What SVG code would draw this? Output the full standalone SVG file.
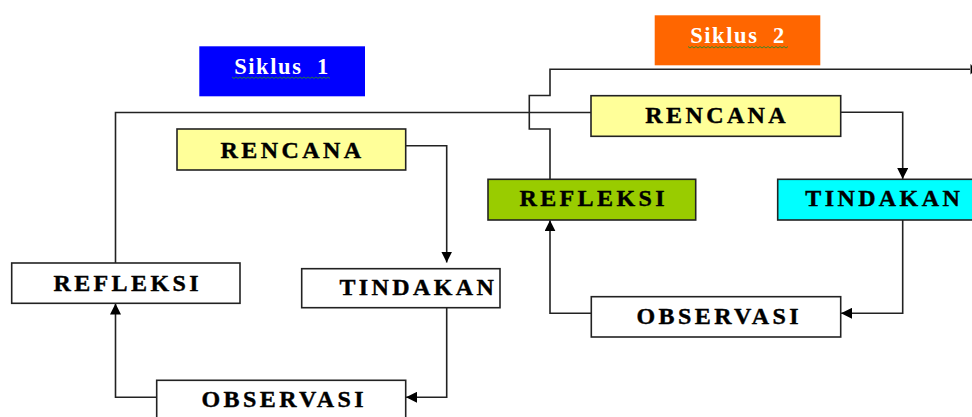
<svg xmlns="http://www.w3.org/2000/svg" width="972" height="417" viewBox="0 0 972 417">
<defs>
<style>
.box{stroke:#222;stroke-width:1.6}
.lbl{font-family:"Liberation Serif","Times New Roman",serif;font-weight:bold;font-size:24px;letter-spacing:3.4px;fill:#000;stroke:#000;stroke-width:0.4;text-anchor:middle}
.ttl{font-family:"Liberation Serif","Times New Roman",serif;font-weight:bold;font-size:22.5px;letter-spacing:1.6px;fill:#fff;text-anchor:middle}
.ln{fill:none;stroke:#222;stroke-width:1.6}
.wavy{fill:none;stroke:#2a8a2a;stroke-width:0.9}
</style>
<marker id="ah" viewBox="0 0 10 10" refX="10" refY="5" markerWidth="11" markerHeight="11" markerUnits="userSpaceOnUse" orient="auto">
<path d="M0,0 L10,5 L0,10 z" fill="#000"/>
</marker>
</defs>
<rect width="972" height="417" fill="#fff"/>

<g id="connectors">
<path class="ln" d="M115.5,263 V112.5 H591"/>
<path class="ln" d="M405.7,145.7 H446.7 V262.5" marker-end="url(#ah)"/>
<path class="ln" d="M446.7,307.7 V397.3 H406" marker-end="url(#ah)"/>
<path class="ln" d="M156.7,397.3 H115.5 V303.5" marker-end="url(#ah)"/>
<path class="ln" d="M550,179.3 V129 H529.3 V95.5 H550 V69.3 H970"/>
<polygon points="970.5,64 976,69.3 970.5,74.5" fill="#000"/>
<path class="ln" d="M840.7,112.3 H902.7 V179" marker-end="url(#ah)"/>
<path class="ln" d="M902.7,220 V313.3 H841" marker-end="url(#ah)"/>
<path class="ln" d="M591.3,313.3 H550 V220.3" marker-end="url(#ah)"/>
</g>

<g id="siklus1">
<rect x="199.3" y="46.3" width="165.7" height="50" fill="#0000FF"/>
<text class="ttl" x="282" y="74" xml:space="preserve">Siklus  1</text>
<path class="wavy" d="M232,77 l2,1.5 l2,-1.5 l2,1.5 l2,-1.5 l2,1.5 l2,-1.5 l2,1.5 l2,-1.5 l2,1.5 l2,-1.5 l2,1.5 l2,-1.5 l2,1.5 l2,-1.5 l2,1.5 l2,-1.5 l2,1.5 l2,-1.5 l2,1.5 l2,-1.5 l2,1.5 l2,-1.5 l2,1.5 l2,-1.5 l2,1.5 l2,-1.5 l2,1.5 l2,-1.5 l2,1.5 l2,-1.5 l2,1.5 l2,-1.5 l2,1.5 l2,-1.5 l2,1.5 l2,-1.5 l2,1.5 l2,-1.5 l2,1.5 l2,-1.5 l2,1.5 l2,-1.5 l2,1.5 l2,-1.5 l2,1.5 l2,-1.5 l2,1.5 l2,-1.5 l2,1.5"/>
</g>

<g id="siklus2">
<rect x="654.7" y="15.3" width="165.6" height="50" fill="#FF6600"/>
<text class="ttl" x="738" y="43.3" xml:space="preserve">Siklus  2</text>
<path class="wavy" d="M688,46.5 l2,1.5 l2,-1.5 l2,1.5 l2,-1.5 l2,1.5 l2,-1.5 l2,1.5 l2,-1.5 l2,1.5 l2,-1.5 l2,1.5 l2,-1.5 l2,1.5 l2,-1.5 l2,1.5 l2,-1.5 l2,1.5 l2,-1.5 l2,1.5 l2,-1.5 l2,1.5 l2,-1.5 l2,1.5 l2,-1.5 l2,1.5 l2,-1.5 l2,1.5 l2,-1.5 l2,1.5 l2,-1.5 l2,1.5 l2,-1.5 l2,1.5 l2,-1.5 l2,1.5 l2,-1.5 l2,1.5 l2,-1.5 l2,1.5 l2,-1.5 l2,1.5 l2,-1.5 l2,1.5 l2,-1.5 l2,1.5 l2,-1.5 l2,1.5 l2,-1.5 l2,1.5 l2,-1.5"/>
</g>

<g id="rencana1">
<rect class="box" x="177" y="129" width="228.7" height="41" fill="#FFFF99"/>
<text class="lbl" x="292.5" y="157.5">RENCANA</text>
</g>
<g id="tindakan1">
<rect class="box" x="301.7" y="268.7" width="198.3" height="39" fill="#fff"/>
<text class="lbl" x="418.4" y="295">TINDAKAN</text>
</g>
<g id="observasi1">
<rect class="box" x="156.7" y="380.3" width="249" height="45" fill="#fff"/>
<text class="lbl" x="284.2" y="407">OBSERVASI</text>
</g>
<g id="refleksi1">
<rect class="box" x="11.7" y="263" width="228.3" height="40.3" fill="#fff"/>
<text class="lbl" x="127.7" y="291">REFLEKSI</text>
</g>

<g id="rencana2">
<rect class="box" x="591" y="95.7" width="249.7" height="40.6" fill="#FFFF99"/>
<text class="lbl" x="717.2" y="123">RENCANA</text>
</g>
<g id="tindakan2">
<rect class="box" x="777.7" y="179.3" width="200" height="40.7" fill="#00FFFF"/>
<text class="lbl" x="884.2" y="205.6">TINDAKAN</text>
</g>
<g id="observasi2">
<rect class="box" x="591.3" y="296.7" width="249.4" height="40.3" fill="#fff"/>
<text class="lbl" x="719.2" y="323.6">OBSERVASI</text>
</g>
<g id="refleksi2">
<rect class="box" x="488" y="179.3" width="207.7" height="40.7" fill="#99CC00"/>
<text class="lbl" x="593.7" y="205.6">REFLEKSI</text>
</g>
</svg>
